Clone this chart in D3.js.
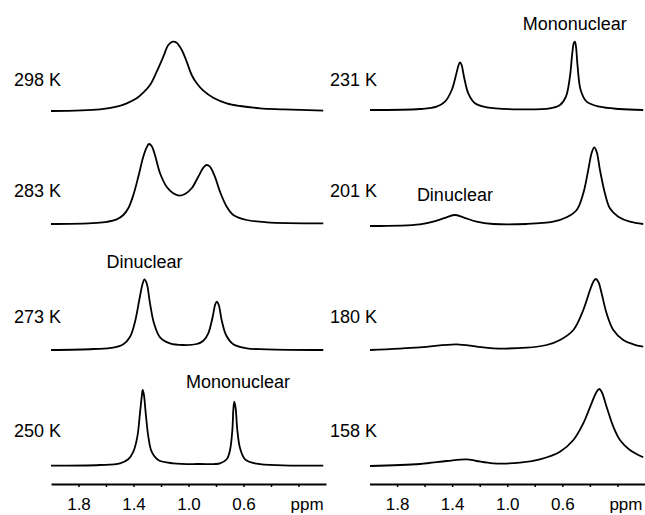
<!DOCTYPE html>
<html lang="en">
<head>
    <meta charset="utf-8" />
    <script src="https://cdn.jsdelivr.net/npm/d3@7"></script>
    <title>VT NMR spectra</title>
    <style>
        body { margin: 0; background: #fff; }
        text { font-family: "Liberation Sans", Arial, sans-serif; fill: #000; }
    </style>
</head>
<body>
    <script>
        // Spectra: [ppm, intensity (a.u.)]
        const spec298 = [[2.00,0],[1.644,1.7],[1.522,4.3],[1.449,7.7],[1.377,12.7],[1.329,18.3],[1.280,26],[1.231,39.3],[1.183,54.3],[1.147,66],[1.115,69.3],[1.086,68.3],[1.049,61],[1.013,49.3],[0.977,36],[0.940,27.7],[0.892,20.3],[0.820,13.3],[0.722,7.7],[0.625,5],[0.480,2.7],[0.311,1.7],[0.02,0.3]];
        const spec283 = [[2.00,0],[1.644,1.3],[1.522,4.7],[1.474,9],[1.438,15.7],[1.401,29],[1.365,47.3],[1.329,67.3],[1.304,76.7],[1.287,80],[1.268,78],[1.244,69],[1.207,50.7],[1.159,37.3],[1.111,30.7],[1.069,28.3],[1.025,30],[0.977,35.7],[0.929,47.3],[0.892,56.3],[0.868,59],[0.844,57.3],[0.808,47.3],[0.771,32.3],[0.722,17.3],[0.674,9],[0.577,4],[0.431,1.7],[0.02,0.7]];
        const spec273 = [[2.00,0],[1.692,1],[1.547,2.3],[1.474,5.7],[1.425,13.3],[1.389,28.3],[1.358,50],[1.333,66.7],[1.321,70.7],[1.304,66.7],[1.280,46.7],[1.251,26.7],[1.207,12.7],[1.135,6.7],[1.038,5],[0.940,6],[0.892,9.3],[0.856,16.7],[0.824,33.3],[0.807,45],[0.795,48.3],[0.780,45],[0.759,30],[0.727,15],[0.674,5.7],[0.577,1.7],[0.431,0.7],[0.02,0]];
        const spec250 = [[2.00,0.3],[1.644,1],[1.498,2.7],[1.438,6.7],[1.401,14.3],[1.372,29.3],[1.353,52.7],[1.340,69.3],[1.333,76],[1.324,71],[1.311,52.7],[1.292,29.3],[1.268,14.3],[1.220,6],[1.111,2.7],[0.916,2],[0.771,2.7],[0.722,6.7],[0.698,16],[0.681,36],[0.674,56],[0.667,64.3],[0.657,57.7],[0.645,36],[0.625,17.7],[0.589,6.7],[0.504,2.3],[0.311,0.7],[0.02,0.3]];
        const spec231 = [[1.996,0],[1.634,1],[1.513,3.3],[1.452,8.3],[1.403,20],[1.372,35],[1.353,45],[1.343,47.7],[1.331,45],[1.314,33.3],[1.283,16.7],[1.234,6.7],[1.149,2.7],[0.908,0.7],[0.690,1.7],[0.617,5],[0.574,13.3],[0.545,33.3],[0.528,56.7],[0.516,67.3],[0.509,68.3],[0.501,63.3],[0.489,43.3],[0.467,20],[0.424,8.3],[0.330,3.3],[0.185,1],[0.013,0]];
        const spec201 = [[1.996,0],[1.634,1.7],[1.512,5.3],[1.440,8.7],[1.380,11],[1.319,8.7],[1.222,4.3],[1.102,2],[0.859,2],[0.666,4.3],[0.569,8.7],[0.496,16],[0.448,32.7],[0.412,56],[0.388,72.7],[0.369,78.7],[0.351,74.3],[0.327,56],[0.291,32.7],[0.255,17.7],[0.194,9.3],[0.110,4.3],[0.013,2]];
        const spec180 = [[1.996,0],[1.634,2.7],[1.367,5.7],[1.222,3.3],[1.102,1.7],[0.859,2.3],[0.714,5],[0.617,10],[0.520,20],[0.448,40],[0.399,60],[0.375,68.3],[0.358,71],[0.339,68.3],[0.315,56.7],[0.279,36.7],[0.230,20],[0.158,10],[0.085,5.7],[0.013,3.3]];
        const spec158 = [[1.996,0],[1.634,2],[1.440,5],[1.295,6.7],[1.222,5],[1.102,2.7],[0.908,3.3],[0.763,6.7],[0.617,14.3],[0.520,26],[0.448,42.7],[0.388,62.7],[0.351,74.3],[0.332,77],[0.315,74.3],[0.279,59.3],[0.230,39.3],[0.182,26],[0.110,16],[0.013,8.7]];

        const tempLabels = ["298 K", "283 K", "273 K", "250 K", "231 K", "201 K", "180 K", "158 K"];
        const spectra = [spec298, spec283, spec273, spec250, spec231, spec201, spec180, spec158];

        // Axis ticks
        const tickValues = [1.8, 1.6, 1.4, 1.2, 1.0, 0.8, 0.6, 0.4, 0.2];
        const tickLabels = ["1.8", "", "1.4", "", "1.0", "", "0.6", "", "ppm"];

        // Peak annotations: text, panel index, ppm of the peak
        const noteText = ["Dinuclear", "Mononuclear", "Mononuclear", "Dinuclear"];
        const notePanel = [2, 3, 4, 5];
        const notePpm = [1.32, 0.64, 0.51, 1.38];

        // Layout
        const width = 645, height = 515;
        const colRange = [[51, 326], [369.5, 645]];
        const baselines = [111, 224, 350, 466, 110, 226, 350, 466];
        const labelX = [14, 330];
        const labelY = [86, 197, 323, 437];
        const noteY = [268, 388, 30, 201];
        const axisY = 484;

        const svg = d3.select("body")
            .append("svg")
            .attr("width", width)
            .attr("height", height);

        const xScales = colRange.map(r => d3.scaleLinear().domain([2.0, 0.0]).range(r));

        spectra.forEach((spec, i) => {
            const col = i < 4 ? 0 : 1;
            const row = i % 4;
            const x = xScales[col];
            const y = d3.scaleLinear().domain([0, 100]).range([baselines[i], baselines[i] - 100]);

            const line = d3.line()
                .x(d => x(d[0]))
                .y(d => y(d[1]))
                .curve(d3.curveCatmullRom.alpha(0.5));

            svg.append("path")
                .datum(spec)
                .attr("d", line)
                .attr("fill", "none")
                .attr("stroke", "#000")
                .attr("stroke-width", 1.8)
                .attr("stroke-linejoin", "round");

            svg.append("text")
                .attr("x", labelX[col])
                .attr("y", labelY[row])
                .attr("font-size", 18)
                .text(tempLabels[i]);
        });

        // Annotations
        noteText.forEach((t, k) => {
            const col = notePanel[k] < 4 ? 0 : 1;
            svg.append("text")
                .attr("x", xScales[col](notePpm[k]))
                .attr("y", noteY[k])
                .attr("text-anchor", "middle")
                .attr("font-size", 18)
                .text(t);
        });

        // Axes
        xScales.forEach(x => {
            const axis = d3.axisBottom(x)
                .tickValues(tickValues)
                .tickFormat((d, i) => tickLabels[i])
                .tickSize(3)
                .tickSizeOuter(0)
                .tickPadding(11);
            const g = svg.append("g")
                .attr("transform", "translate(0," + axisY + ")")
                .call(axis);
            g.select(".domain").attr("stroke", "#000").attr("stroke-width", 2);
            g.selectAll(".tick line").attr("stroke", "#000").attr("stroke-width", 1.5);
            g.selectAll(".tick text")
                .attr("font-size", 17)
                .attr("font-family", "Liberation Sans, Arial, sans-serif")
                .attr("fill", "#000")
                .attr("dx", (d, i) => tickLabels[i] === "ppm" ? 8 : 0);
        });
    </script>
</body>
</html>
